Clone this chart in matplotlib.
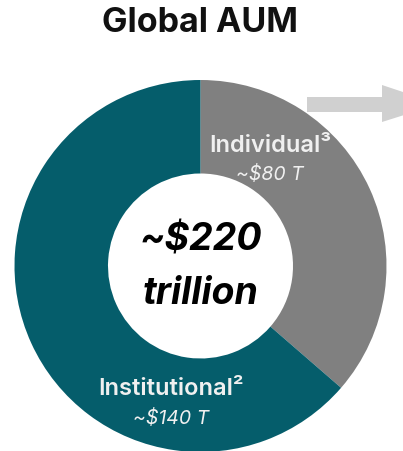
import matplotlib.pyplot as plt
from matplotlib.patches import Polygon

# datos
segmentos = ['Individual³', 'Institutional²']
valores = [80, 140]
etiquetas_valor = ['~$80 T', '~$140 T']
colores = ['#808080', '#055d6b']
titulo = 'Global AUM'
total_txt = ['~$220', 'trillion']

W, H = 403, 451
fig = plt.figure(figsize=(W / 100, H / 100), dpi=100)
ax = fig.add_axes([0, 0, 1, 1])

# dona (coordenadas en pixeles, y hacia arriba)
cx, cy = 200.5, H - 266
r_ext, r_int = 186, 92.5
ax.pie(valores, colors=colores, startangle=90, counterclock=False,
       center=(cx, cy), radius=r_ext, frame=True,
       wedgeprops=dict(width=r_ext - r_int, linewidth=0))
ax.set_xlim(0, W)
ax.set_ylim(0, H)
ax.set_aspect('equal')
ax.axis('off')

ax.text(cx, H - 23, titulo, ha='center', va='center', fontsize=24.5,
        fontweight='bold', family='Inter', color='#111111')

# texto central
ax.text(cx, H - 241, total_txt[0], ha='center', va='center', fontsize=27,
        fontweight='bold', style='italic', family='Inter', color='black')
ax.text(cx, H - 294, total_txt[1], ha='center', va='center', fontsize=27,
        fontweight='bold', style='italic', family='Inter', color='black')

# etiquetas
pos = [(270, 146, 175), (171, 389, 418)]
for nombre, val, (x, y1, y2) in zip(segmentos, etiquetas_valor, pos):
    ax.text(x, H - y1, nombre, ha='center', va='center', fontsize=17,
            fontweight='semibold', family='Inter', color='#f0f0f0')
    ax.text(x, H - y2, val, ha='center', va='center', fontsize=14,
            style='italic', family='Inter', color='#f0f0f0')

# flecha gris
flecha = [(307, 97), (382, 97), (382, 85), (439, 104), (382, 122),
          (382, 112), (307, 112)]
ax.add_patch(Polygon([(x, H - y) for x, y in flecha], closed=True,
                     facecolor='#d0d0d0', edgecolor='none', clip_on=False))

fig.savefig('out.png', dpi=100)
